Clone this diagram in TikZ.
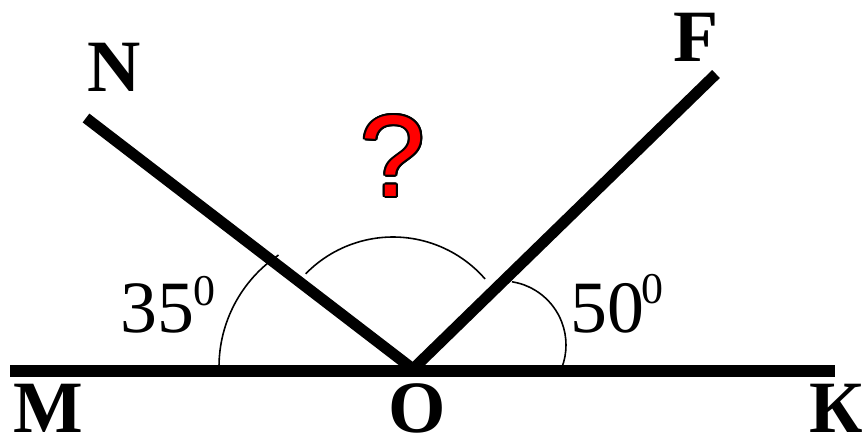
\documentclass[tikz,border=0pt]{standalone}
\usepackage{fontspec}
\setmainfont{Liberation Serif}
\newfontfamily\qfont{Liberation Sans}
\usepackage{contour}
\contourlength{1.1pt}
\usepackage{tikz}
\usetikzlibrary{positioning,calc}
\definecolor{qred}{HTML}{FF0000}

\begin{document}
\begin{tikzpicture}[x=0.02cm,y=0.02cm]
  \tikzset{
    ray/.style={line width=6.3pt,line join=miter},
    anglearc/.style={line width=0.9pt},
    ptlabel/.style={inner sep=0pt,font=\fontsize{42}{42}\selectfont\bfseries},
    deglabel/.style={inner sep=0pt,anchor=base west,font=\fontsize{42}{42}\selectfont},
    degsup/.style={inner sep=0pt,anchor=base west,font=\fontsize{25}{25}\selectfont}
  }
  \useasboundingbox (0,0) rectangle (865,440);
  % points
  \coordinate (M) at (10,69);
  \coordinate (K) at (835,69);
  \coordinate (O) at (413,71);
  \coordinate (N) at (86,322);
  \coordinate (F) at (716,366);
  % lines
  \draw[ray,line cap=butt] (M) -- (K);
  \draw[ray] (N) -- (O) -- (F);
  % angle arcs
  \draw[anglearc] (219,73) arc[start angle=180,end angle=124,radius=135];
  \draw[anglearc] ($(393,81)+(135.7:122)$) arc[start angle=135.7,end angle=41,radius=122];
  \draw[anglearc] ($(502,95)+(81:64)$) arc[start angle=81,end angle=-21,radius=64];
  % labels
  \node[ptlabel] (labN) at (114,373) {N};
  \node[ptlabel] (labF) at (696,403) {F};
  \node[ptlabel] (labM) at (48,32) {M};
  \node[ptlabel] (labO) at (417,32) {O};
  \node[ptlabel] (labK) at (836,32) {К};
  \node[deglabel] (a35) at (120,108) {35};
  \node[degsup] (a35s) at (193,135) {0};
  \node[deglabel] (a50) at (570,108) {50};
  \node[degsup] (a50s) at (641,137) {0};
  \node[inner sep=0pt,font=\qfont\fontsize{66}{66}\selectfont] (quest) at (393,283)
    {\contour{black}{\textcolor{qred}{?}}};
\end{tikzpicture}
\end{document}
